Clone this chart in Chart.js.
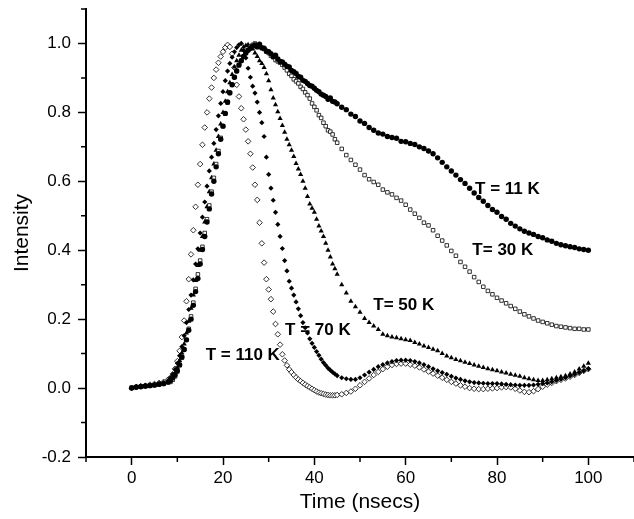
<!DOCTYPE html>
<html>
<head>
<meta charset="utf-8">
<script src="https://cdn.jsdelivr.net/npm/chart.js@4.4.0/dist/chart.umd.min.js"></script>
<style>
  html, body { margin: 0; padding: 0; background: #fff; }
  #wrap { width: 634px; height: 519px; }
</style>
</head>
<body>
<div id="wrap"><canvas id="grafico" width="634" height="519"></canvas></div>
<script>
// sample times (ns) - denser where the curves move fast
var tempos = [0, 1, 2, 3, 4, 5, 6, 7, 8,
  8.5, 9, 9.5, 10, 10.5, 11, 11.5, 12, 12.5, 13,
  13.5, 14, 14.5, 15, 15.5, 16, 16.5, 17, 17.5, 18,
  18.5, 19, 19.5, 20, 20.5, 21, 21.5, 22, 22.5, 23,
  23.5, 24, 24.5, 25, 25.5, 26, 26.5, 27, 27.5, 28,
  28.5, 29, 29.5, 30, 30.5, 31, 31.5, 32, 32.5, 33,
  33.5, 34, 34.5, 35, 35.5, 36, 36.5, 37, 37.5, 38,
  38.5, 39, 39.5, 40, 40.5, 41, 41.5, 42, 42.5, 43,
  43.5, 44, 44.5, 45,
  46, 47, 48, 49, 50, 51, 52, 53, 54, 55,
  56, 57, 58, 59, 60, 61, 62, 63, 64, 65,
  66, 67, 68, 69, 70, 71, 72, 73, 74, 75,
  76, 77, 78, 79, 80, 81, 82, 83, 84, 85,
  86, 87, 88, 89, 90, 91, 92, 93, 94, 95,
  96, 97, 98, 99, 100];

// normalized intensity
var t11K = [0.000, 0.003, 0.004, 0.006, 0.007, 0.009, 0.011, 0.013, 0.018,
  0.022, 0.030, 0.038, 0.050, 0.068, 0.090, 0.112, 0.140, 0.168, 0.200,
  0.240, 0.280, 0.318, 0.360, 0.402, 0.440, 0.482, 0.520, 0.563, 0.600,
  0.642, 0.680, 0.722, 0.760, 0.797, 0.830, 0.857, 0.880, 0.902, 0.920,
  0.938, 0.950, 0.962, 0.972, 0.980, 0.986, 0.992, 0.996, 0.990, 0.998,
  0.988, 0.986, 0.978, 0.976, 0.970, 0.962, 0.966, 0.955, 0.948, 0.946,
  0.940, 0.934, 0.932, 0.922, 0.918, 0.913, 0.904, 0.902, 0.893, 0.890,
  0.884, 0.878, 0.876, 0.870, 0.864, 0.860, 0.853, 0.850, 0.846, 0.838,
  0.842, 0.832, 0.830, 0.825,
  0.815, 0.808, 0.795, 0.788, 0.775, 0.768, 0.756, 0.748, 0.740, 0.737,
  0.730, 0.727, 0.725, 0.716, 0.715, 0.710, 0.707, 0.700, 0.695, 0.688,
  0.680, 0.668, 0.655, 0.642, 0.630, 0.618, 0.605, 0.594, 0.580, 0.566,
  0.553, 0.542, 0.530, 0.518, 0.510, 0.498, 0.490, 0.478, 0.470, 0.462,
  0.455, 0.450, 0.446, 0.440, 0.436, 0.430, 0.426, 0.420, 0.416, 0.413,
  0.410, 0.408, 0.404, 0.402, 0.400];

var t30K = [0.002, 0.002, 0.005, 0.005, 0.008, 0.008, 0.010, 0.012, 0.016,
  0.018, 0.024, 0.034, 0.048, 0.066, 0.088, 0.112, 0.140, 0.172, 0.208,
  0.248, 0.288, 0.330, 0.370, 0.410, 0.450, 0.490, 0.530, 0.570, 0.610,
  0.650, 0.688, 0.726, 0.760, 0.796, 0.828, 0.856, 0.880, 0.902, 0.920,
  0.936, 0.950, 0.962, 0.972, 0.982, 0.990, 0.996, 1.000, 0.994, 0.992,
  0.986, 0.984, 0.976, 0.972, 0.964, 0.960, 0.952, 0.948, 0.944, 0.938,
  0.930, 0.922, 0.912, 0.906, 0.896, 0.890, 0.884, 0.874, 0.868, 0.858,
  0.850, 0.840, 0.826, 0.816, 0.806, 0.792, 0.784, 0.770, 0.760, 0.748,
  0.744, 0.736, 0.722, 0.712,
  0.694, 0.676, 0.662, 0.648, 0.634, 0.618, 0.606, 0.598, 0.590, 0.576,
  0.568, 0.562, 0.552, 0.544, 0.532, 0.518, 0.506, 0.494, 0.480, 0.472,
  0.458, 0.442, 0.428, 0.414, 0.398, 0.384, 0.366, 0.352, 0.338, 0.322,
  0.308, 0.294, 0.282, 0.272, 0.262, 0.254, 0.246, 0.238, 0.230, 0.222,
  0.214, 0.208, 0.202, 0.196, 0.192, 0.188, 0.184, 0.180, 0.178, 0.176,
  0.174, 0.172, 0.172, 0.170, 0.170];

var t50K = [0.000, 0.004, 0.003, 0.006, 0.006, 0.009, 0.012, 0.014, 0.020,
  0.024, 0.032, 0.044, 0.060, 0.080, 0.102, 0.128, 0.160, 0.194, 0.232,
  0.270, 0.312, 0.356, 0.400, 0.440, 0.482, 0.526, 0.570, 0.610, 0.650,
  0.690, 0.730, 0.766, 0.800, 0.832, 0.860, 0.886, 0.910, 0.932, 0.950,
  0.966, 0.980, 0.990, 0.994, 0.996, 0.990, 0.984, 0.972, 0.962, 0.950,
  0.942, 0.930, 0.912, 0.892, 0.866, 0.842, 0.822, 0.802, 0.782, 0.762,
  0.742, 0.722, 0.706, 0.690, 0.672, 0.652, 0.636, 0.620, 0.600, 0.580,
  0.556, 0.534, 0.522, 0.510, 0.490, 0.470, 0.456, 0.440, 0.420, 0.400,
  0.380, 0.360, 0.346, 0.330,
  0.300, 0.276, 0.252, 0.236, 0.220, 0.202, 0.190, 0.180, 0.170, 0.156,
  0.152, 0.148, 0.146, 0.143, 0.140, 0.138, 0.132, 0.128, 0.122, 0.118,
  0.113, 0.108, 0.100, 0.093, 0.088, 0.083, 0.079, 0.075, 0.071, 0.067,
  0.063, 0.060, 0.056, 0.053, 0.050, 0.047, 0.044, 0.040, 0.037, 0.034,
  0.030, 0.027, 0.024, 0.022, 0.022, 0.024, 0.027, 0.030, 0.033, 0.036,
  0.041, 0.047, 0.055, 0.063, 0.072];

var t70K = [0.001, 0.002, 0.004, 0.007, 0.008, 0.010, 0.013, 0.016, 0.022,
  0.030, 0.040, 0.054, 0.072, 0.094, 0.120, 0.152, 0.190, 0.228, 0.270,
  0.314, 0.360, 0.404, 0.450, 0.496, 0.540, 0.586, 0.630, 0.670, 0.710,
  0.750, 0.790, 0.826, 0.860, 0.892, 0.920, 0.942, 0.960, 0.976, 0.988,
  0.996, 1.000, 0.980, 0.958, 0.928, 0.902, 0.876, 0.856, 0.830, 0.800,
  0.770, 0.730, 0.670, 0.620, 0.580, 0.545, 0.510, 0.475, 0.440, 0.405,
  0.370, 0.340, 0.310, 0.290, 0.270, 0.250, 0.230, 0.210, 0.190, 0.175,
  0.160, 0.143, 0.130, 0.118, 0.106, 0.095, 0.084, 0.074, 0.066, 0.058,
  0.052, 0.046, 0.041, 0.036,
  0.030, 0.027, 0.025, 0.025, 0.030, 0.038, 0.046, 0.054, 0.062, 0.068,
  0.073, 0.077, 0.080, 0.081, 0.081, 0.080, 0.077, 0.073, 0.068, 0.062,
  0.056, 0.050, 0.045, 0.040, 0.034, 0.029, 0.025, 0.021, 0.018, 0.016,
  0.015, 0.014, 0.013, 0.013, 0.013, 0.012, 0.011, 0.010, 0.009, 0.008,
  0.008, 0.008, 0.009, 0.011, 0.013, 0.015, 0.018, 0.022, 0.026, 0.030,
  0.035, 0.040, 0.045, 0.050, 0.056];

var t110K = [0.000, 0.003, 0.006, 0.007, 0.010, 0.012, 0.015, 0.018, 0.025,
  0.030, 0.040, 0.056, 0.078, 0.108, 0.148, 0.196, 0.252, 0.316, 0.388,
  0.458, 0.526, 0.590, 0.650, 0.706, 0.756, 0.800, 0.840, 0.872, 0.900,
  0.924, 0.944, 0.962, 0.976, 0.988, 0.996, 0.990, 0.970, 0.930, 0.880,
  0.846, 0.812, 0.780, 0.750, 0.716, 0.680, 0.640, 0.590, 0.546, 0.480,
  0.420, 0.364, 0.316, 0.286, 0.258, 0.222, 0.186, 0.156, 0.126, 0.098,
  0.080, 0.066, 0.054, 0.046, 0.038, 0.031, 0.025, 0.020, 0.015, 0.010,
  0.006, 0.002, -0.002, -0.006, -0.010, -0.013, -0.015, -0.017, -0.019, -0.020,
  -0.021, -0.021, -0.021, -0.020,
  -0.018, -0.014, -0.010, -0.002, 0.008, 0.018, 0.028, 0.038, 0.047, 0.055,
  0.062, 0.067, 0.070, 0.071, 0.071, 0.068, 0.065, 0.060, 0.054, 0.048,
  0.042, 0.036, 0.030, 0.024, 0.018, 0.013, 0.008, 0.004, 0.000, -0.002,
  -0.003, -0.003, -0.002, -0.001, 0.000, 0.002, 0.003, 0.002, -0.002, -0.007,
  -0.011, -0.012, -0.009, -0.003, 0.004, 0.010, 0.015, 0.020, 0.024, 0.028,
  0.033, 0.038, 0.044, 0.050, 0.055];

// text labels placed in data units
var rotulos = ['T = 11 K', 'T= 30 K', 'T= 50 K', 'T = 70 K', 'T = 110 K'];
var rotuloX = [75.2, 74.6, 52.9, 33.6, 16.2];
var rotuloY = [0.577, 0.40, 0.239, 0.168, 0.095];

var xMarcas = [0, 20, 40, 60, 80, 100];
var xMenores = [-10, 10, 30, 50, 70, 90, 110];
var yMarcas = [-0.2, 0, 0.2, 0.4, 0.6, 0.8, 1.0];
var yMenores = [-0.1, 0.1, 0.3, 0.5, 0.7, 0.9, 1.1];

var fonte = '"Liberation Sans", Arial, sans-serif';

function criaSerie(nome, valores, estilo, raio, preenchido) {
  return {
    label: nome,
    data: tempos.map(function (t, i) { return { x: t, y: valores[i] }; }),
    pointStyle: estilo,
    pointRadius: raio,
    backgroundColor: preenchido ? '#000' : '#fff',
    borderColor: '#000',
    pointBorderWidth: preenchido ? 0 : 0.8,
    showLine: false
  };
}

var extras = {
  id: 'extras',
  afterDatasetsDraw: function (chart) {
    var ctx = chart.ctx, x = chart.scales.x, y = chart.scales.y;
    ctx.save();
    ctx.fillStyle = '#000';
    ctx.font = 'bold 17px ' + fonte;
    ctx.textBaseline = 'middle';
    ctx.textAlign = 'left';
    for (var i = 0; i < rotulos.length; i++) {
      ctx.fillText(rotulos[i], x.getPixelForValue(rotuloX[i]), y.getPixelForValue(rotuloY[i]));
    }
    // minor ticks
    ctx.strokeStyle = '#000';
    ctx.lineWidth = 1.5;
    ctx.beginPath();
    xMenores.forEach(function (v) {
      var px = x.getPixelForValue(v);
      ctx.moveTo(px, y.bottom);
      ctx.lineTo(px, y.bottom + 5);
    });
    yMenores.forEach(function (v) {
      var py = y.getPixelForValue(v);
      ctx.moveTo(x.left, py);
      ctx.lineTo(x.left - 5, py);
    });
    ctx.stroke();
    ctx.restore();
  }
};

var ctx = document.getElementById('grafico').getContext('2d');
var chart = new Chart(ctx, {
  type: 'scatter',
  data: {
    datasets: [
      criaSerie('T = 11 K', t11K, 'circle', 2.7, true),
      criaSerie('T = 30 K', t30K, 'rect', 2.5, false),
      criaSerie('T = 50 K', t50K, 'triangle', 3.0, true),
      criaSerie('T = 70 K', t70K, 'rectRot', 2.6, true),
      criaSerie('T = 110 K', t110K, 'rectRot', 2.8, false)
    ]
  },
  options: {
    responsive: false,
    devicePixelRatio: 1,
    animation: false,
    layout: { autoPadding: false, padding: { top: 9, right: 0, left: 0, bottom: 0 } },
    plugins: { legend: { display: false }, tooltip: { enabled: false } },
    scales: {
      x: {
        type: 'linear',
        min: -10,
        max: 110,
        afterBuildTicks: function (s) { s.ticks = xMarcas.map(function (v) { return { value: v }; }); },
        afterFit: function (s) { s.height = 62; s.paddingLeft = 0; s.paddingRight = 0; },
        grid: { drawOnChartArea: false, tickLength: 8, tickWidth: 1.5, color: '#000' },
        border: { display: true, color: '#000', width: 2 },
        ticks: { color: '#000', padding: 3, maxRotation: 0, font: { family: fonte, size: 17 } },
        title: { display: true, text: 'Time (nsecs)', color: '#000', font: { family: fonte, size: 21 } }
      },
      y: {
        type: 'linear',
        min: -0.2,
        max: 1.1,
        afterBuildTicks: function (s) { s.ticks = yMarcas.map(function (v) { return { value: v }; }); },
        afterFit: function (s) { s.width = 86; s.paddingTop = 0; s.paddingBottom = 0; },
        grid: { drawOnChartArea: false, tickLength: 8, tickWidth: 1.5, color: '#000' },
        border: { display: true, color: '#000', width: 2 },
        ticks: {
          color: '#000', padding: 7, font: { family: fonte, size: 17 },
          callback: function (v) { return v.toFixed(1); }
        },
        title: { display: true, text: 'Intensity', color: '#000', padding: { top: 10, bottom: 0 }, font: { family: fonte, size: 21 } }
      }
    }
  },
  plugins: [extras]
});
</script>
</body>
</html>
